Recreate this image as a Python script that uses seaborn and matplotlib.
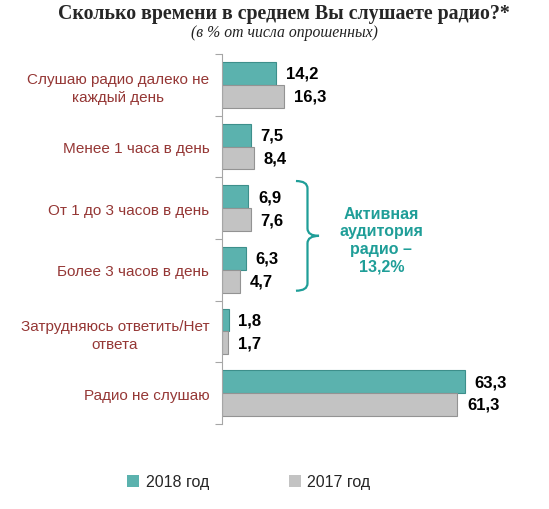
import matplotlib
matplotlib.use("Agg")
import matplotlib.pyplot as plt
from matplotlib.patches import Patch, PathPatch
from matplotlib.path import Path
import pandas as pd
import seaborn as sns

categories = [
    "Слушаю радио далеко не\nкаждый день",
    "Менее 1 часа в день",
    "От 1 до 3 часов в день",
    "Более 3 часов в день",
    "Затрудняюсь ответить/Нет\nответа",
    "Радио не слушаю",
]
values_2018 = [14.2, 7.5, 6.9, 6.3, 1.8, 63.3]
values_2017 = [16.3, 8.4, 7.6, 4.7, 1.7, 61.3]
years = ["2018 год", "2017 год"]

TEAL = "#5bb2ae"
TEAL_EDGE = "#3d8f8b"
GRAY = "#c3c3c3"
GRAY_EDGE = "#939393"
LABEL_RED = "#953735"
NOTE_TEAL = "#1f9e98"

df = pd.DataFrame({
    "cat": categories * 2,
    "val": values_2018 + values_2017,
    "year": [years[0]] * len(categories) + [years[1]] * len(categories),
})

sns.set_theme(style="white")
plt.rcParams["font.family"] = ["Liberation Sans", "DejaVu Sans"]

fig = plt.figure(figsize=(5.49, 5.10), dpi=100)
ax = fig.add_axes([0.404, 0.167, 0.56, 0.725])

sns.barplot(data=df, y="cat", x="val", hue="year", hue_order=years,
            palette=[TEAL, GRAY], width=0.74, orient="h", ax=ax,
            legend=False, saturation=1)

edges = [TEAL_EDGE, GRAY_EDGE]
for cont, ec in zip(ax.containers, edges):
    for bar in cont:
        bar.set_edgecolor(ec)
        bar.set_linewidth(0.8)
    labels = [f"{v:.1f}".replace(".", ",") for v in cont.datavalues]
    ax.bar_label(cont, labels=labels, padding=7, fontsize=12,
                 fontweight="bold", color="black")

ax.set_xlim(0, 80)
ax.set_ylim(len(categories) - 0.5, -0.5)
ax.set_xlabel("")
ax.set_ylabel("")
ax.set_xticks([])
ax.tick_params(axis="y", which="major", length=0, pad=9,
               labelsize=11, labelcolor=LABEL_RED)
ax.set_yticks([i - 0.5 for i in range(len(categories) + 1)], minor=True)
ax.tick_params(axis="y", which="minor", left=True, length=5, width=0.8,
               color="#a6a6a6")
for lbl in ax.get_yticklabels():
    lbl.set_multialignment("center")
    lbl.set_linespacing(1.35)
for side in ["top", "right", "bottom"]:
    ax.spines[side].set_visible(False)
ax.spines["left"].set_color("#a6a6a6")
ax.spines["left"].set_linewidth(0.8)

# brace over the "active audience" groups
y0, y1 = 1.56, 3.34
ym = (y0 + y1) / 2
xb = 19.3
w = 3.0
verts = [
    (xb, y0), (xb + w, y0), (xb + w, y0 + 0.12),
    (xb + w, ym - 0.12), (xb + w, ym), (xb + 2 * w, ym),
    (xb + w, ym), (xb + w, ym + 0.12),
    (xb + w, y1 - 0.12), (xb + w, y1), (xb, y1),
]
codes = [Path.MOVETO, Path.CURVE3, Path.CURVE3,
         Path.LINETO, Path.CURVE3, Path.CURVE3,
         Path.CURVE3, Path.CURVE3,
         Path.LINETO, Path.CURVE3, Path.CURVE3]
ax.add_patch(PathPatch(Path(verts, codes), fill=False, edgecolor=NOTE_TEAL,
                       linewidth=1.6, clip_on=False))
ax.text(41.5, 2.51, "Активная\nаудитория\nрадио –\n13,2%", ha="center",
        va="center", fontsize=11.5, fontweight="bold", color=NOTE_TEAL,
        linespacing=1.2)

fig.text(0.517, 0.973, "Сколько времени в среднем Вы слушаете радио?*",
         ha="center", va="center", fontsize=14.3, fontweight="bold",
         family=["Liberation Serif", "DejaVu Serif"])
fig.text(0.518, 0.935, "(в % от числа опрошенных)", ha="center", va="center",
         fontsize=11.3, style="italic", color="#222222",
         family=["Liberation Serif", "DejaVu Serif"])

handles = [Patch(facecolor=TEAL, edgecolor="none"),
           Patch(facecolor=GRAY, edgecolor="none")]
fig.legend(handles, years, loc="center", bbox_to_anchor=(0.453, 0.053),
           ncol=2, frameon=False, fontsize=11.5, handlelength=0.75,
           handleheight=0.75, handletextpad=0.4, columnspacing=5.0)

fig.savefig("out.png", dpi=100)
